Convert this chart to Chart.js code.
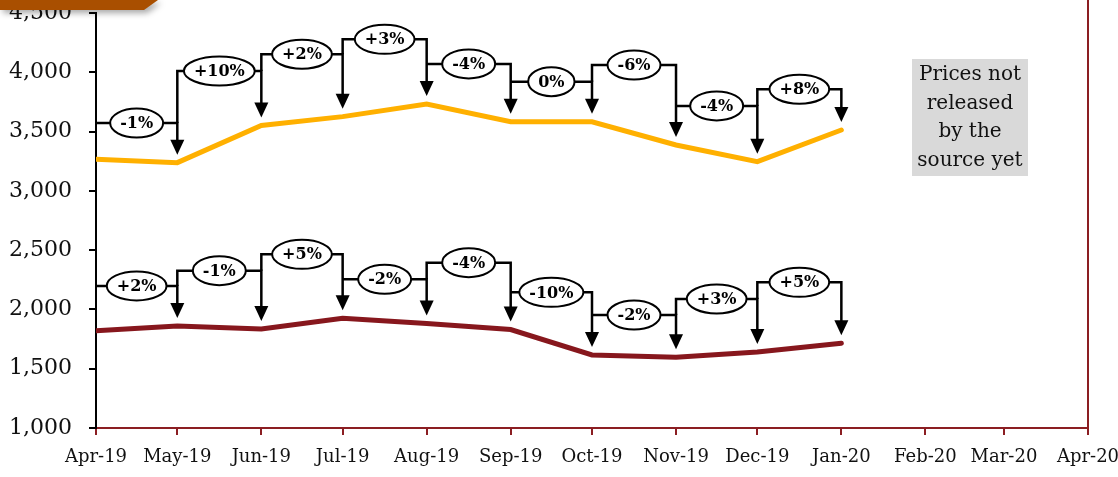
<!DOCTYPE html>
<html>
<head>
<meta charset="utf-8">
<script src="https://cdn.jsdelivr.net/npm/chart.js@4/dist/chart.umd.min.js"></script>
<style>
  html, body { margin: 0; padding: 0; background: #fff; }
  #wrap { width: 1118px; height: 477px; position: relative; }
</style>
</head>
<body>
<div id="wrap"><canvas id="myChart" width="1118" height="477"></canvas></div>
<script>
const monthList = ['Apr-19', 'May-19', 'Jun-19', 'Jul-19', 'Aug-19', 'Sep-19', 'Oct-19', 'Nov-19', 'Dec-19', 'Jan-20', 'Feb-20', 'Mar-20', 'Apr-20']
const yTicks = [1000, 1500, 2000, 2500, 3000, 3500, 4000, 4500]

// monthly prices (Apr-19 .. Jan-20)
const upperPrices = [3266, 3238, 3552, 3626, 3733, 3583, 3583, 3387, 3246, 3513]
const lowerPrices = [1821, 1860, 1835, 1925, 1882, 1830, 1616, 1596, 1641, 1714]

// month-on-month change callouts and the level of their connector
const upperChanges = ['-1%', '+10%', '+2%', '+3%', '-4%', '0%', '-6%', '-4%', '+8%']
const upperLevels = [3572, 4011, 4152, 4278, 4070, 3921, 4061, 3716, 3857]
const lowerChanges = ['+2%', '-1%', '+5%', '-2%', '-4%', '-10%', '-2%', '+3%', '+5%']
const lowerLevels = [2198, 2327, 2465, 2254, 2394, 2144, 1953, 2088, 2229]

const noteLines = ['Prices not', 'released', 'by the', 'source yet']

// x positions: days since the first month (date axis like the original)
const monNames = ['Jan', 'Feb', 'Mar', 'Apr', 'May', 'Jun', 'Jul', 'Aug', 'Sep', 'Oct', 'Nov', 'Dec']
function toUTC(lbl) {
    const [m, y] = lbl.split('-')
    return Date.UTC(2000 + parseInt(y), monNames.indexOf(m), 1)
}
const base = toUTC(monthList[0])
const dayList = monthList.map(l => Math.round((toUTC(l) - base) / 86400000))

const SERIF = '"DejaVu Serif", "Liberation Serif", serif'
const DARKRED = '#8B1E22'

const calloutPlugin = {
    id: 'callouts',
    afterDatasetsDraw(chart) {
        const c = chart.ctx
        const xs = chart.scales.x, ys = chart.scales.y
        const groups = [
            [upperPrices, upperChanges, upperLevels],
            [lowerPrices, lowerChanges, lowerLevels]
        ]
        c.save()
        groups.forEach(([vals, changes, levels]) => {
            // connectors + arrows
            c.strokeStyle = '#000'
            c.fillStyle = '#000'
            c.lineWidth = 2.5
            changes.forEach((txt, i) => {
                const x0 = xs.getPixelForValue(dayList[i])
                const x1 = xs.getPixelForValue(dayList[i + 1])
                const yh = ys.getPixelForValue(levels[i])
                const tip = ys.getPixelForValue(vals[i + 1]) - 8
                const yStart = i > 0 ? ys.getPixelForValue(levels[i - 1]) : yh
                c.beginPath()
                c.moveTo(x0, Math.max(yStart, yh))
                c.lineTo(x0, yh)
                c.lineTo(x1, yh)
                c.lineTo(x1, tip - 12)
                c.stroke()
                c.beginPath()
                c.moveTo(x1 - 7, tip - 15)
                c.lineTo(x1 + 7, tip - 15)
                c.lineTo(x1, tip)
                c.closePath()
                c.fill()
            })
            // labels in ellipses
            c.font = 'bold 16px ' + SERIF
            c.textAlign = 'center'
            c.textBaseline = 'middle'
            changes.forEach((txt, i) => {
                const x0 = xs.getPixelForValue(dayList[i])
                const x1 = xs.getPixelForValue(dayList[i + 1])
                const yh = ys.getPixelForValue(levels[i])
                const cx = (x0 + x1) / 2
                const w = c.measureText(txt).width + 20
                c.beginPath()
                c.ellipse(cx, yh, w / 2, 14.5, 0, 0, Math.PI * 2)
                c.fillStyle = '#fff'
                c.fill()
                c.lineWidth = 2
                c.strokeStyle = '#000'
                c.stroke()
                c.fillStyle = '#000'
                c.fillText(txt, cx, yh + 1)
            })
        })

        // note box
        const area = chart.chartArea
        const bx = 912, by = 59, bw = 116, bh = 117
        c.fillStyle = '#D9D9D9'
        c.fillRect(bx, by, bw, bh)
        c.fillStyle = '#111'
        c.font = '20px ' + SERIF
        noteLines.forEach((t, k) => c.fillText(t, bx + bw / 2, by + 16 + k * 28.5))

        // right border line
        c.strokeStyle = DARKRED
        c.lineWidth = 2
        c.beginPath()
        c.moveTo(area.right, 0)
        c.lineTo(area.right, area.bottom)
        c.stroke()

        // brown tab at the top-left corner
        c.shadowColor = 'rgba(0,0,0,0.35)'
        c.shadowBlur = 6
        c.shadowOffsetX = 3
        c.shadowOffsetY = 3
        c.fillStyle = '#A94F00'
        c.beginPath()
        c.moveTo(0, 0)
        c.lineTo(158, 0)
        c.lineTo(144, 10)
        c.lineTo(0, 10)
        c.closePath()
        c.fill()
        c.restore()
    }
}

const ctx = document.getElementById('myChart').getContext('2d')

const myChart = new Chart(ctx, {
    type: 'line',
    data: {
        datasets: [{
            label: 'Upper price',
            data: upperPrices.map((v, i) => ({ x: dayList[i], y: v })),
            borderColor: '#FFB000',
            borderWidth: 5,
            borderCapStyle: 'round',
            pointRadius: 0,
            tension: 0,
            fill: false
        }, {
            label: 'Lower price',
            data: lowerPrices.map((v, i) => ({ x: dayList[i], y: v })),
            borderColor: '#87171D',
            borderWidth: 5,
            borderCapStyle: 'round',
            pointRadius: 0,
            tension: 0,
            fill: false
        }]
    },
    options: {
        responsive: false,
        animation: false,
        layout: { padding: { top: 13, right: 30, left: 0, bottom: 0 } },
        plugins: {
            legend: { display: false },
            tooltip: { enabled: false }
        },
        scales: {
            x: {
                type: 'linear',
                min: dayList[0],
                max: dayList[dayList.length - 1],
                afterBuildTicks: (axis) => {
                    axis.ticks = dayList.map(d => ({ value: d }))
                },
                afterFit: (axis) => {
                    axis.height = 49
                    axis.paddingLeft = 0
                    axis.paddingRight = 0
                },
                border: { color: DARKRED, width: 2 },
                grid: { drawOnChartArea: false, drawTicks: true, tickLength: 7, color: DARKRED, lineWidth: 2 },
                ticks: {
                    autoSkip: false,
                    maxRotation: 0,
                    minRotation: 0,
                    padding: 12,
                    color: '#111',
                    font: { family: SERIF, size: 18 },
                    callback: (value) => monthList[dayList.indexOf(value)]
                }
            },
            y: {
                min: yTicks[0],
                max: yTicks[yTicks.length - 1],
                afterBuildTicks: (axis) => {
                    axis.ticks = yTicks.map(v => ({ value: v }))
                },
                afterFit: (axis) => {
                    axis.width = 96
                    axis.paddingTop = 0
                    axis.paddingBottom = 0
                },
                border: { color: '#000', width: 2 },
                grid: { drawOnChartArea: false, drawTicks: true, tickLength: 7, color: '#000', lineWidth: 2 },
                ticks: {
                    padding: 17,
                    color: '#111',
                    font: { family: SERIF, size: 22 },
                    callback: (value) => value.toLocaleString('en-US')
                }
            }
        }
    },
    plugins: [calloutPlugin]
})
</script>
</body>
</html>
